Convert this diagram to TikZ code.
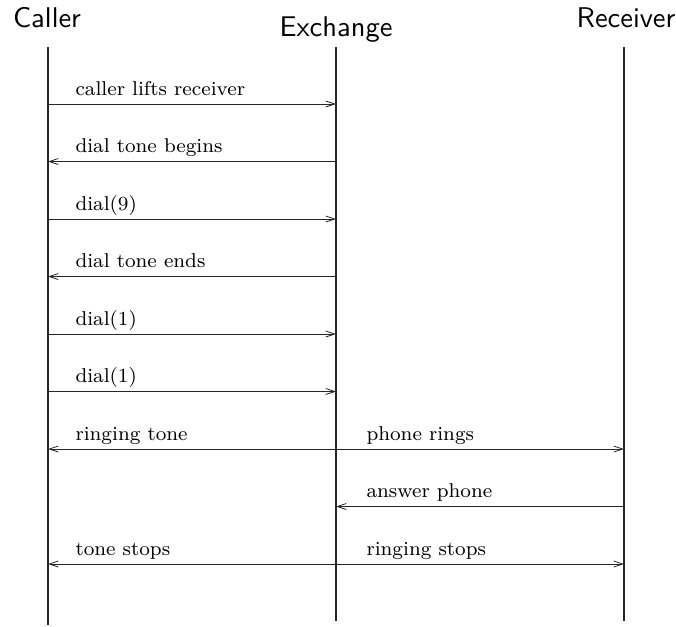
\documentclass[tikz,border=0pt]{standalone}
\usetikzlibrary{arrows.meta}
\begin{document}
\begin{tikzpicture}[x=1pt,y=-1pt,
  lifeline/.style={line width=1.3pt, black!85},
  msg/.style={line width=0.8pt, black!85, -{Straight Barb[length=9pt,width=6pt]}},
  title/.style={font=\sffamily, scale=2.85, inner sep=0pt, anchor=base},
  lbl/.style={font=\fontsize{8}{10}\selectfont, scale=2.5, inner sep=0pt, anchor=base west}]
\useasboundingbox (0,0) rectangle (676,626);
% titles
\node[title] (tc) at (47,28) {Caller};
\node[title] (te) at (336,37) {Exchange};
\node[title] (tr) at (626,28) {Receiver};
% lifelines
\coordinate (ct) at (48,47);  \coordinate (cb) at (48,625);
\coordinate (et) at (336,47); \coordinate (eb) at (336,621);
\coordinate (rt) at (624,47); \coordinate (rb) at (624,621);
\draw[lifeline] (ct) -- (cb);
\draw[lifeline] (et) -- (eb);
\draw[lifeline] (rt) -- (rb);
% message rows
\foreach \i/\y in {1/104,2/161.5,3/219,4/276.5,5/334,6/391.5,7/449,8/506.5,9/564}{
  \coordinate (c\i) at (48,\y);
  \coordinate (e\i) at (336,\y);
  \coordinate (r\i) at (624,\y);
}
\draw[msg] (c1) -- (e1);
\node[lbl] (l1) at (75,95) {caller lifts receiver};
\draw[msg] (e2) -- (c2);
\node[lbl] (l2) at (75,152.5) {dial tone begins};
\draw[msg] (c3) -- (e3);
\node[lbl] (l3) at (75,210) {dial(9)};
\draw[msg] (e4) -- (c4);
\node[lbl] (l4) at (75,267.5) {dial tone ends};
\draw[msg] (c5) -- (e5);
\node[lbl] (l5) at (75,325) {dial(1)};
\draw[msg] (c6) -- (e6);
\node[lbl] (l6) at (75,382.5) {dial(1)};
\draw[msg] (e7) -- (c7);
\draw[msg] (e7) -- (r7);
\node[lbl] (l7a) at (75,440) {ringing tone};
\node[lbl] (l7b) at (366,440) {phone rings};
\draw[msg] (r8) -- (e8);
\node[lbl] (l8) at (366,497.5) {answer phone};
\draw[msg] (e9) -- (c9);
\draw[msg] (e9) -- (r9);
\node[lbl] (l9a) at (75,555) {tone stops};
\node[lbl] (l9b) at (366,555) {ringing stops};
\end{tikzpicture}
\end{document}
